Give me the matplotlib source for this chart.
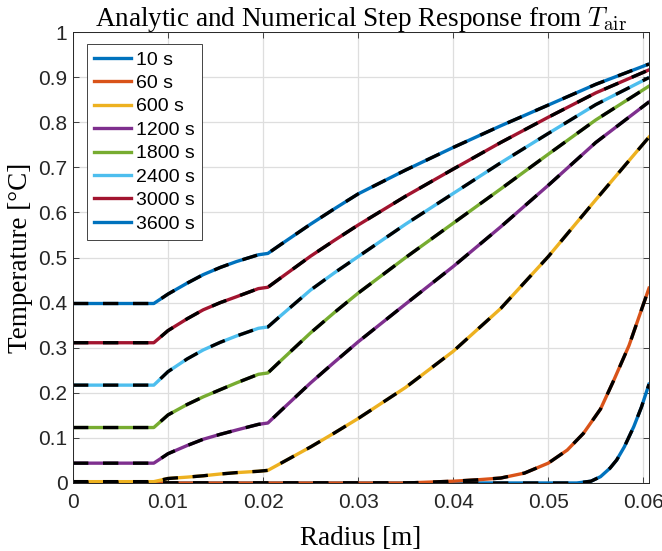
import numpy as np
import matplotlib.pyplot as plt

plt.rcParams['mathtext.fontset'] = 'cm'

# radius points (m) and temperatures
r_full = [0, 0.0085, 0.01, 0.012, 0.0137, 0.0155, 0.0172, 0.0195, 0.0205, 0.0218,
          0.025, 0.0275, 0.03, 0.035, 0.04, 0.045, 0.05, 0.055, 0.0606]

T_600 = [0.003, 0.003, 0.010, 0.013, 0.016, 0.020, 0.023, 0.026, 0.028, 0.043,
         0.080, 0.111, 0.143, 0.212, 0.292, 0.387, 0.502, 0.628, 0.767]
T_1200 = [0.044, 0.044, 0.065, 0.083, 0.097, 0.108, 0.1175, 0.130, 0.133, 0.159,
          0.222, 0.268, 0.313, 0.397, 0.480, 0.568, 0.660, 0.755, 0.845]
T_1800 = [0.123, 0.123, 0.151, 0.174, 0.191, 0.207, 0.222, 0.241, 0.244, 0.270,
          0.333, 0.378, 0.421, 0.500, 0.576, 0.652, 0.729, 0.805, 0.880]
T_2400 = [0.217, 0.217, 0.247, 0.275, 0.295, 0.312, 0.326, 0.343, 0.346, 0.370,
          0.428, 0.466, 0.502, 0.574, 0.642, 0.710, 0.775, 0.839, 0.899]
T_3000 = [0.311, 0.311, 0.338, 0.364, 0.384, 0.400, 0.413, 0.431, 0.434, 0.454,
          0.503, 0.538, 0.572, 0.636, 0.696, 0.755, 0.811, 0.865, 0.916]
T_3600 = [0.398, 0.398, 0.419, 0.443, 0.462, 0.478, 0.491, 0.506, 0.509, 0.528,
          0.574, 0.608, 0.641, 0.694, 0.744, 0.792, 0.838, 0.884, 0.929]

# early times only move near the surface
r_60 = [0, 0.035, 0.04, 0.0425, 0.045, 0.0475, 0.05, 0.052, 0.0537, 0.0555,
        0.0569, 0.0585, 0.0606]
T_60 = [0, 0, 0.004, 0.007, 0.011, 0.022, 0.044, 0.073, 0.110, 0.164,
        0.228, 0.305, 0.432]
r_10 = [0, 0.053, 0.0545, 0.0555, 0.0565, 0.0572, 0.058, 0.059, 0.0598, 0.0606]
T_10 = [0, 0, 0.004, 0.014, 0.033, 0.051, 0.080, 0.125, 0.168, 0.219]

labels = ['10 s', '60 s', '600 s', '1200 s', '1800 s', '2400 s', '3000 s', '3600 s']
colors = ['#0072BD', '#D95319', '#EDB120', '#7E2F8E', '#77AC30', '#4DBEEE', '#A2142F', '#0072BD']

radii = [r_10, r_60, r_full, r_full, r_full, r_full, r_full, r_full]
temps = [T_10, T_60, T_600, T_1200, T_1800, T_2400, T_3000, T_3600]

fig = plt.figure(figsize=(6.62, 5.51), dpi=100)
ax = fig.add_axes([73/662, 1-483/551, (649-73)/662, (483-32)/551])

# analytic
for r, T, col, lab in zip(radii, temps, colors, labels):
    ax.plot(r, T, color=col, lw=2.4, label=lab, solid_joinstyle='round')
# numerical (overlaid dashed)
for r, T in zip(radii, temps):
    ax.plot(r, T, color='black', lw=2.4, linestyle=(0, (4.6, 4.4)))

ax.set_xlim(0, 0.0606)
ax.set_ylim(0, 1)
ax.set_xticks(np.arange(0, 0.061, 0.01))
ax.set_xticklabels(['0', '0.01', '0.02', '0.03', '0.04', '0.05', '0.06'])
ax.set_yticks(np.arange(0, 1.01, 0.1))
ax.set_yticklabels(['0', '0.1', '0.2', '0.3', '0.4', '0.5', '0.6', '0.7', '0.8', '0.9', '1'])

ax.grid(True, color='#dedede', lw=0.9)
ax.set_axisbelow(True)
ax.tick_params(direction='in', top=True, right=True, length=4, width=0.6,
               colors='#262626', labelsize=15)
ax.tick_params(axis='x', pad=7)
ax.tick_params(axis='y', pad=4)
for lbl in ax.get_xticklabels() + ax.get_yticklabels():
    lbl.set_family('Liberation Sans')
for s in ax.spines.values():
    s.set_color('#262626')
    s.set_linewidth(0.7)

ax.set_xlabel('Radius [m]', family='Liberation Serif', fontsize=19.5, labelpad=10)
ax.set_ylabel('Temperature [°C]', family='Liberation Serif', fontsize=19.5, labelpad=4)
ax.set_title(r'Analytic and Numerical Step Response from $T_{\mathrm{air}}$',
             family='Liberation Serif', fontsize=19.5, pad=4)

leg = ax.legend(loc='upper left', bbox_to_anchor=(0.024, 0.973), fancybox=False,
                framealpha=1, edgecolor='#262626', borderpad=0.35,
                labelspacing=0.3, handlelength=1.9, handletextpad=0.3,
                borderaxespad=0, prop={'family': 'Liberation Sans', 'size': 14})
leg.get_frame().set_linewidth(0.6)

fig.savefig('out.png', dpi=100)
